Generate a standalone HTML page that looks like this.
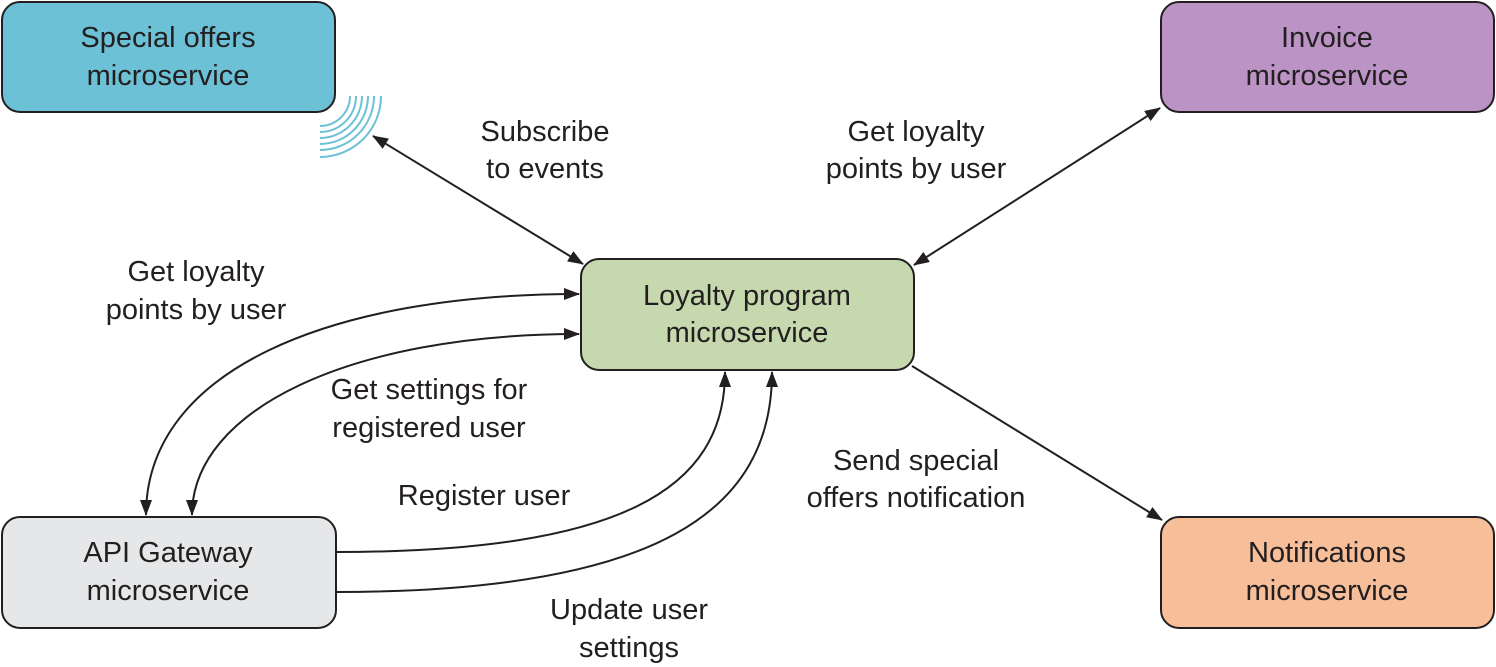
<!DOCTYPE html>
<html><head><meta charset="utf-8"><style>
html,body{margin:0;padding:0;background:#fff;}
svg{display:block;}
text{font-family:"Liberation Sans",Arial,sans-serif;font-size:29px;fill:#231f20;text-anchor:middle;}
</style></head><body>
<svg width="1496" height="667" viewBox="0 0 1496 667" xmlns="http://www.w3.org/2000/svg">
<defs>
<marker id="ah" markerWidth="16" markerHeight="12" refX="15" refY="6" orient="auto-start-reverse" markerUnits="userSpaceOnUse">
<path d="M0,0 L16,6 L0,12 Z" fill="#231f20"/>
</marker>
</defs>
<g stroke="#231f20" stroke-width="2">
<rect x="2" y="2" width="333" height="110" rx="18" fill="#6dc1d6"/>
<rect x="1161" y="2" width="333" height="110" rx="18" fill="#bb93c4"/>
<rect x="581" y="259" width="333" height="111" rx="18" fill="#c5d8ae"/>
<rect x="2" y="517" width="334" height="111" rx="18" fill="#e6e7e9"/>
<rect x="1161" y="517" width="333" height="111" rx="18" fill="#f7bf99"/>
</g>
<g fill="none" stroke="#6dc1d6" stroke-width="2">
<path d="M350,96 A30,30 0 0 1 320,126"/>
<path d="M356,96 A36,36 0 0 1 320,132"/>
<path d="M362,96 A42,42 0 0 1 320,138"/>
<path d="M368,96 A48,48 0 0 1 320,144"/>
<path d="M374,96 A54,54 0 0 1 320,150"/>
<path d="M381,96 A61,61 0 0 1 320,157"/>
</g>
<g fill="none" stroke="#231f20" stroke-width="2">
<line x1="373" y1="136" x2="583" y2="264" marker-start="url(#ah)" marker-end="url(#ah)"/>
<line x1="914" y1="265" x2="1160" y2="108" marker-start="url(#ah)" marker-end="url(#ah)"/>
<line x1="912" y1="366" x2="1162" y2="520" marker-end="url(#ah)"/>
<path d="M146,515 C146,370 330,294 579,294" marker-start="url(#ah)" marker-end="url(#ah)"/>
<path d="M192,515 C192,410 350,334 579,334" marker-start="url(#ah)" marker-end="url(#ah)"/>
<path d="M336,552 C620,552 725,490 725,372" marker-end="url(#ah)"/>
<path d="M336,592 C660,592 772,510 772,372" marker-end="url(#ah)"/>
</g>
<text x="168" y="47">Special offers</text>
<text x="168" y="85">microservice</text>
<text x="1327" y="47">Invoice</text>
<text x="1327" y="85">microservice</text>
<text x="747" y="305">Loyalty program</text>
<text x="747" y="342">microservice</text>
<text x="168" y="562">API Gateway</text>
<text x="168" y="600">microservice</text>
<text x="1327" y="562">Notifications</text>
<text x="1327" y="600">microservice</text>
<text x="545" y="141">Subscribe</text>
<text x="545" y="178">to events</text>
<text x="916" y="141">Get loyalty</text>
<text x="916" y="178">points by user</text>
<text x="196" y="281">Get loyalty</text>
<text x="196" y="319">points by user</text>
<text x="429" y="399">Get settings for</text>
<text x="429" y="437">registered user</text>
<text x="484" y="505">Register user</text>
<text x="916" y="470">Send special</text>
<text x="916" y="507">offers notification</text>
<text x="629" y="619">Update user</text>
<text x="629" y="657">settings</text>
</svg>
</body></html>
